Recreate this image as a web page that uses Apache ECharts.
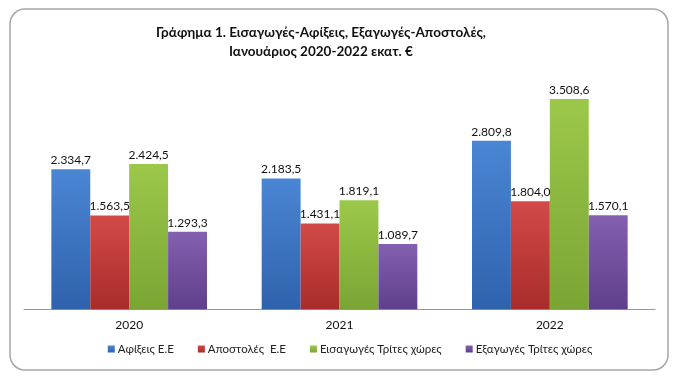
<!DOCTYPE html>
<html><head><meta charset="utf-8">
<script src="https://cdn.jsdelivr.net/npm/echarts@6/dist/echarts.min.js"></script>
<style>html,body{margin:0;padding:0;background:#fff}#c{width:700px;height:386px}</style>
</head><body><div id="c"></div>
<script>
const categories = ['2020', '2021', '2022'];
const seriesNames = ['Αφίξεις Ε.Ε', 'Αποστολές  Ε.Ε', 'Εισαγωγές Τρίτες χώρες', 'Εξαγωγές Τρίτες χώρες'];
const arrivalsEU = [2334.7, 2183.5, 2809.8];
const dispatchesEU = [1563.5, 1431.1, 1804.0];
const importsThird = [2424.5, 1819.1, 3508.6];
const exportsThird = [1293.3, 1089.7, 1570.1];
const colors = [['#4a86d4', '#2f62ad'], ['#d24a48', '#a82c2b'], ['#9cc84a', '#7aa534'], ['#8460b0', '#5f3f8c']];

function fmt(v) {
  const parts = v.toFixed(1).split('.');
  parts[0] = parts[0].replace(/\B(?=(\d{3})+(?!\d))/g, '.');
  return parts[0] + ',' + parts[1];
}
const font = 'Lato, Open Sans, Liberation Sans, sans-serif';
const data = [arrivalsEU, dispatchesEU, importsThird, exportsThird];
const chart = echarts.init(document.getElementById('c'), null, {renderer: 'canvas'});
chart.setOption({
  animation: false,
  graphic: [{
    type: 'rect', shape: {x: 10, y: 9, width: 658, height: 361, r: 15},
    style: {fill: 'none', stroke: '#a6a6a6', lineWidth: 1.5}, z: -1
  }],
  title: {
    text: 'Γράφημα 1. Εισαγωγές-Αφίξεις, Εξαγωγές-Αποστολές,\nΙανουάριος 2020-2022 εκατ. €',
    left: 316, top: 18, textAlign: 'center',
    textStyle: {fontFamily: font, fontSize: 13.5, fontWeight: 'bold', color: '#111', lineHeight: 19}
  },
  legend: {
    bottom: 26, left: 'center', itemWidth: 7, itemHeight: 7, itemGap: 24,
    icon: 'rect',
    textStyle: {fontFamily: font, fontSize: 11.5, color: '#222', padding: [0, 0, 0, -2]},
    data: seriesNames
  },
  grid: {left: 24, right: 45, top: 69.5, bottom: 76.7},
  xAxis: {
    type: 'category', data: categories,
    axisLine: {lineStyle: {color: '#999', width: 1}},
    axisTick: {show: false},
    axisLabel: {fontFamily: font, fontSize: 12, color: '#111', margin: 10}
  },
  yAxis: {type: 'value', min: 0, max: 4000, show: false, splitLine: {show: false}},
  series: data.map((d, i) => ({
    name: seriesNames[i], type: 'bar', data: d,
    barGap: '0%', barCategoryGap: '26%',
    itemStyle: {color: new echarts.graphic.LinearGradient(0, 0, 0, 1, [
      {offset: 0, color: colors[i][0]}, {offset: 1, color: colors[i][1]}])},
    label: {show: true, position: 'top', distance: 3, formatter: p => fmt(p.value),
      fontFamily: font, fontSize: 12, color: '#111'}
  })),
  color: colors.map(c => c[0])
});
</script></body></html>
